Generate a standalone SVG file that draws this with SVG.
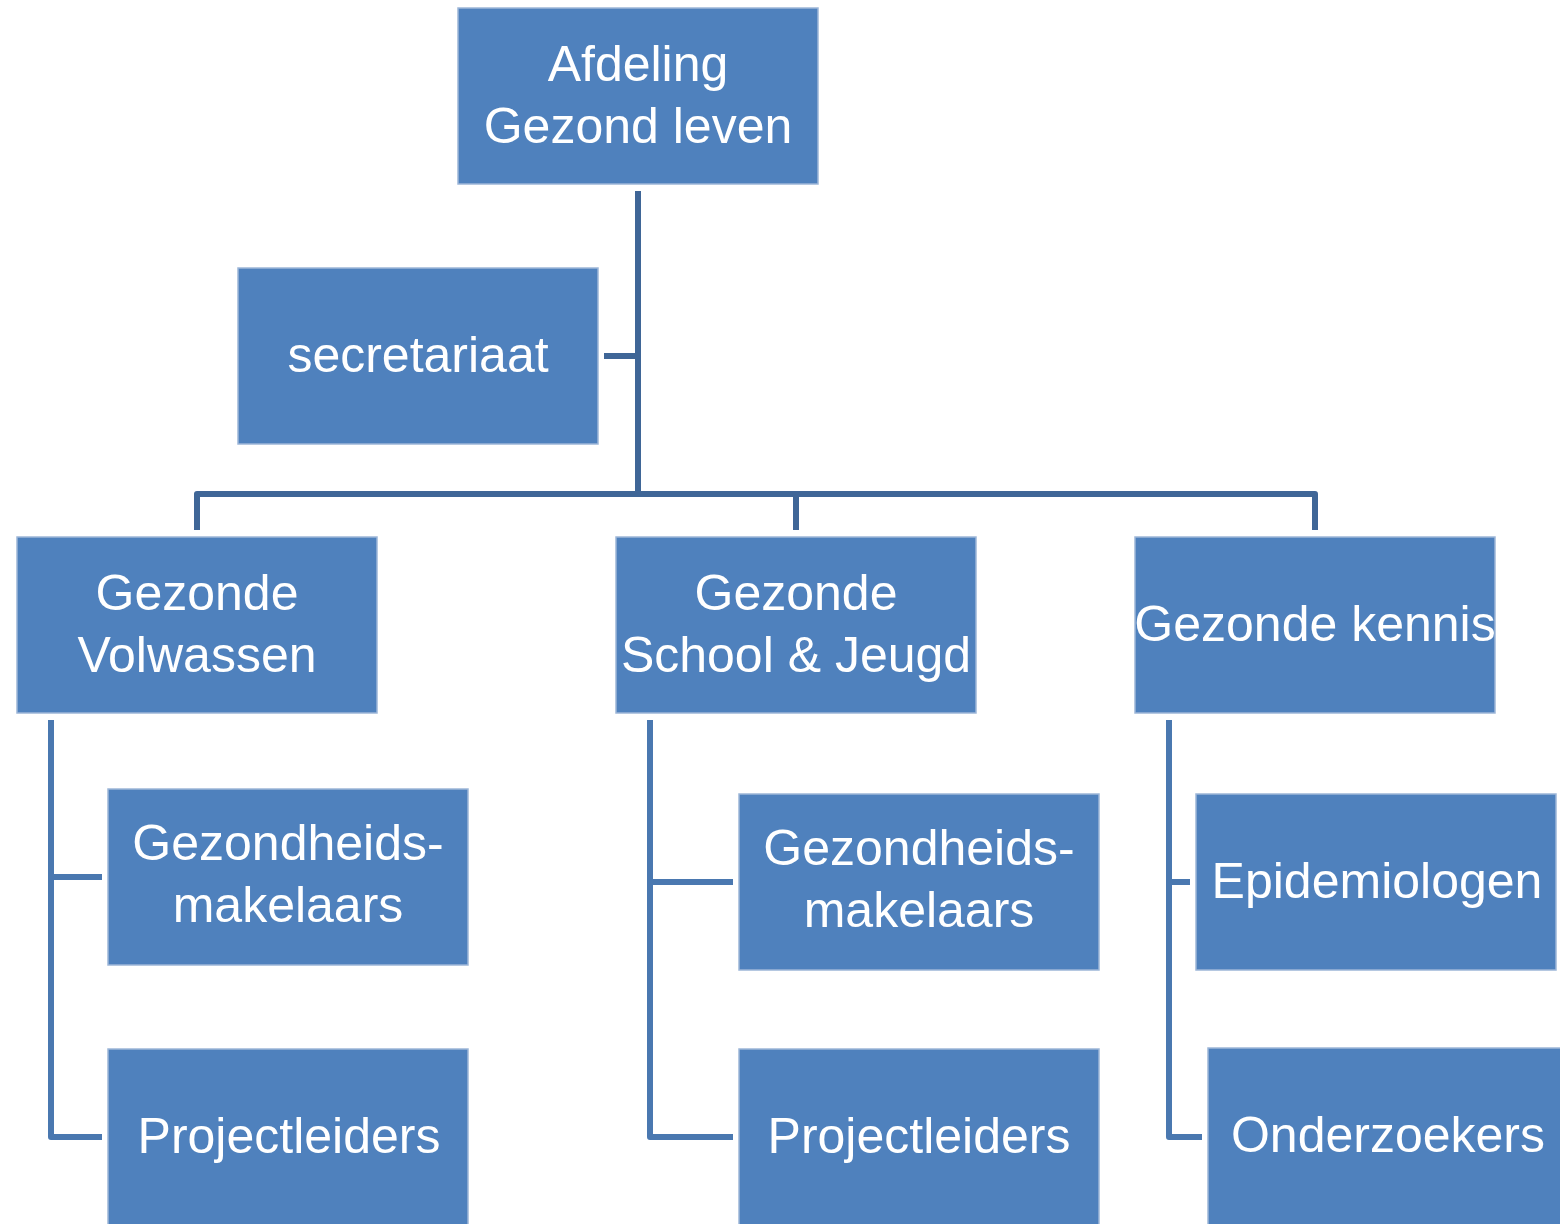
<svg xmlns="http://www.w3.org/2000/svg" width="1560" height="1224" viewBox="0 0 1560 1224">
<style>
.box{fill:#4F81BD;stroke:#9DB6D8;stroke-width:1.5}
.t{font-family:"Liberation Sans",Arial,sans-serif;font-size:50px;fill:#FFFFFF;text-anchor:middle}
.c1{fill:none;stroke:#3F6697;stroke-width:6;stroke-linejoin:round}
.c2{fill:none;stroke:#4A78B0;stroke-width:6;stroke-linejoin:round}
</style>
<rect width="1560" height="1224" fill="#FFFFFF"/>
<g id="connectors">
<path class="c1" d="M638 191V494"/>
<path class="c1" d="M604 356H638"/>
<path class="c1" d="M197 530V494H1315V530"/>
<path class="c1" d="M796 494V530"/>
<path class="c2" d="M51 720V1137H102"/>
<path class="c2" d="M51 877H102"/>
<path class="c2" d="M650 720V1137H733"/>
<path class="c2" d="M650 882H733"/>
<path class="c2" d="M1169 720V1137H1202"/>
<path class="c2" d="M1169 882H1190"/>
</g>
<g id="afdeling"><rect class="box" x="458" y="8" width="360" height="176"/><text class="t" x="638" y="81">Afdeling</text><text class="t" x="638" y="143">Gezond leven</text></g>
<g id="secretariaat"><rect class="box" x="238" y="268" width="360" height="176"/><text class="t" x="418" y="372">secretariaat</text></g>
<g id="volwassen"><rect class="box" x="17" y="537" width="360" height="176"/><text class="t" x="197" y="610">Gezonde</text><text class="t" x="197" y="672">Volwassen</text></g>
<g id="school"><rect class="box" x="616" y="537" width="360" height="176"/><text class="t" x="796" y="610">Gezonde</text><text class="t" x="796" y="672">School &amp; Jeugd</text></g>
<g id="kennis"><rect class="box" x="1135" y="537" width="360" height="176"/><text class="t" x="1315" y="641">Gezonde kennis</text></g>
<g id="makelaars1"><rect class="box" x="108" y="789" width="360" height="176"/><text class="t" x="288" y="860">Gezondheids-</text><text class="t" x="288" y="922">makelaars</text></g>
<g id="projectleiders1"><rect class="box" x="108" y="1049" width="360" height="180"/><text class="t" x="289" y="1153">Projectleiders</text></g>
<g id="makelaars2"><rect class="box" x="739" y="794" width="360" height="176"/><text class="t" x="919" y="865">Gezondheids-</text><text class="t" x="919" y="927">makelaars</text></g>
<g id="projectleiders2"><rect class="box" x="739" y="1049" width="360" height="180"/><text class="t" x="919" y="1153">Projectleiders</text></g>
<g id="epidemiologen"><rect class="box" x="1196" y="794" width="360" height="176"/><text class="t" x="1377" y="898">Epidemiologen</text></g>
<g id="onderzoekers"><rect class="box" x="1208" y="1048" width="360" height="180"/><text class="t" x="1388" y="1152">Onderzoekers</text></g>
</svg>
